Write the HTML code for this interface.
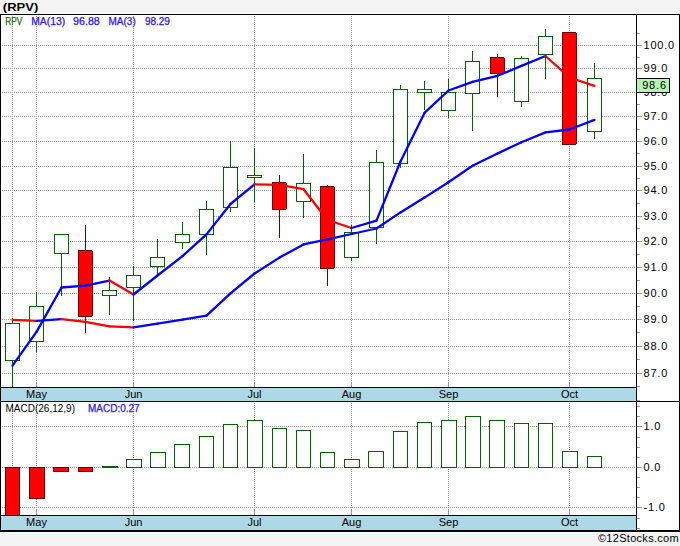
<!DOCTYPE html>
<html><head><meta charset="utf-8"><style>
html,body{margin:0;padding:0;background:#f3f3f3;}
svg{display:block;}
text{font-family:"Liberation Sans",sans-serif;}
</style></head><body>
<svg width="680" height="546" viewBox="0 0 680 546" shape-rendering="crispEdges">
<rect x="0" y="0" width="680" height="546" fill="#f3f3f3"/>
<rect x="0" y="13" width="680" height="520" fill="#ffffff"/>
<rect x="0" y="14" width="680" height="1" fill="#000"/>
<rect x="0" y="14" width="1" height="517" fill="#000"/>
<rect x="679" y="14" width="1" height="517" fill="#000"/>
<rect x="0" y="530" width="680" height="2" fill="#000"/>
<path d="M2,45.5H636" stroke="#9a9a9a" stroke-width="1" stroke-dasharray="1 1"/>
<path d="M2,68.5H636" stroke="#9a9a9a" stroke-width="1" stroke-dasharray="1 1"/>
<path d="M2,92.5H636" stroke="#9a9a9a" stroke-width="1" stroke-dasharray="1 1"/>
<path d="M2,116.5H636" stroke="#9a9a9a" stroke-width="1" stroke-dasharray="1 1"/>
<path d="M2,141.5H636" stroke="#9a9a9a" stroke-width="1" stroke-dasharray="1 1"/>
<path d="M2,166.5H636" stroke="#9a9a9a" stroke-width="1" stroke-dasharray="1 1"/>
<path d="M2,190.5H636" stroke="#9a9a9a" stroke-width="1" stroke-dasharray="1 1"/>
<path d="M2,216.5H636" stroke="#9a9a9a" stroke-width="1" stroke-dasharray="1 1"/>
<path d="M2,241.5H636" stroke="#9a9a9a" stroke-width="1" stroke-dasharray="1 1"/>
<path d="M2,267.5H636" stroke="#9a9a9a" stroke-width="1" stroke-dasharray="1 1"/>
<path d="M2,293.5H636" stroke="#9a9a9a" stroke-width="1" stroke-dasharray="1 1"/>
<path d="M2,319.5H636" stroke="#9a9a9a" stroke-width="1" stroke-dasharray="1 1"/>
<path d="M2,346.5H636" stroke="#9a9a9a" stroke-width="1" stroke-dasharray="1 1"/>
<path d="M2,373.5H636" stroke="#9a9a9a" stroke-width="1" stroke-dasharray="1 1"/>
<path d="M12.5,16V382" stroke="#9a9a9a" stroke-width="1" stroke-dasharray="1 1"/>
<rect x="12" y="382" width="1" height="5" fill="#999999"/>
<path d="M36.5,16V382" stroke="#9a9a9a" stroke-width="1" stroke-dasharray="1 1"/>
<rect x="36" y="382" width="1" height="5" fill="#999999"/>
<path d="M133.5,16V382" stroke="#9a9a9a" stroke-width="1" stroke-dasharray="1 1"/>
<rect x="133" y="382" width="1" height="5" fill="#999999"/>
<path d="M254.5,16V382" stroke="#9a9a9a" stroke-width="1" stroke-dasharray="1 1"/>
<rect x="254" y="382" width="1" height="5" fill="#999999"/>
<path d="M351.5,16V382" stroke="#9a9a9a" stroke-width="1" stroke-dasharray="1 1"/>
<rect x="351" y="382" width="1" height="5" fill="#999999"/>
<path d="M448.5,16V382" stroke="#9a9a9a" stroke-width="1" stroke-dasharray="1 1"/>
<rect x="448" y="382" width="1" height="5" fill="#999999"/>
<path d="M569.5,16V382" stroke="#9a9a9a" stroke-width="1" stroke-dasharray="1 1"/>
<rect x="569" y="382" width="1" height="5" fill="#999999"/>
<path d="M2,426.5H636" stroke="#9a9a9a" stroke-width="1" stroke-dasharray="1 1"/>
<path d="M2,467.5H636" stroke="#9a9a9a" stroke-width="1" stroke-dasharray="1 1"/>
<path d="M2,507.5H636" stroke="#9a9a9a" stroke-width="1" stroke-dasharray="1 1"/>
<path d="M12.5,403V510" stroke="#9a9a9a" stroke-width="1" stroke-dasharray="1 1"/>
<rect x="12" y="510" width="1" height="5" fill="#999999"/>
<path d="M36.5,403V510" stroke="#9a9a9a" stroke-width="1" stroke-dasharray="1 1"/>
<rect x="36" y="510" width="1" height="5" fill="#999999"/>
<path d="M133.5,403V510" stroke="#9a9a9a" stroke-width="1" stroke-dasharray="1 1"/>
<rect x="133" y="510" width="1" height="5" fill="#999999"/>
<path d="M254.5,403V510" stroke="#9a9a9a" stroke-width="1" stroke-dasharray="1 1"/>
<rect x="254" y="510" width="1" height="5" fill="#999999"/>
<path d="M351.5,403V510" stroke="#9a9a9a" stroke-width="1" stroke-dasharray="1 1"/>
<rect x="351" y="510" width="1" height="5" fill="#999999"/>
<path d="M448.5,403V510" stroke="#9a9a9a" stroke-width="1" stroke-dasharray="1 1"/>
<rect x="448" y="510" width="1" height="5" fill="#999999"/>
<path d="M569.5,403V510" stroke="#9a9a9a" stroke-width="1" stroke-dasharray="1 1"/>
<rect x="569" y="510" width="1" height="5" fill="#999999"/>
<rect x="12" y="318" width="1" height="5" fill="#006400"/>
<rect x="12" y="361" width="1" height="26" fill="#006400"/>
<rect x="5" y="323" width="15" height="38" fill="#006400"/>
<rect x="6" y="324" width="13" height="36" fill="#ffffff"/>
<rect x="36" y="292" width="1" height="14" fill="#006400"/>
<rect x="36" y="342" width="1" height="10" fill="#006400"/>
<rect x="29" y="306" width="15" height="36" fill="#006400"/>
<rect x="30" y="307" width="13" height="34" fill="#ffffff"/>
<rect x="61" y="254" width="1" height="42" fill="#006400"/>
<rect x="54" y="234" width="15" height="20" fill="#006400"/>
<rect x="55" y="235" width="13" height="18" fill="#ffffff"/>
<rect x="85" y="225" width="1" height="25" fill="#660000"/>
<rect x="85" y="317" width="1" height="16" fill="#660000"/>
<rect x="78" y="250" width="14" height="67" fill="#660000"/>
<rect x="92" y="251" width="1" height="65" fill="#660000"/>
<rect x="79" y="251" width="13" height="65" fill="#ff0000"/>
<rect x="109" y="277" width="1" height="13" fill="#006400"/>
<rect x="109" y="296" width="1" height="19" fill="#006400"/>
<rect x="102" y="290" width="15" height="6" fill="#006400"/>
<rect x="103" y="291" width="13" height="4" fill="#ffffff"/>
<rect x="133" y="266" width="1" height="9" fill="#006400"/>
<rect x="133" y="288" width="1" height="33" fill="#006400"/>
<rect x="126" y="275" width="15" height="13" fill="#006400"/>
<rect x="127" y="276" width="13" height="11" fill="#ffffff"/>
<rect x="157" y="239" width="1" height="18" fill="#006400"/>
<rect x="157" y="267" width="1" height="8" fill="#006400"/>
<rect x="150" y="257" width="15" height="10" fill="#006400"/>
<rect x="151" y="258" width="13" height="8" fill="#ffffff"/>
<rect x="182" y="222" width="1" height="12" fill="#006400"/>
<rect x="182" y="243" width="1" height="6" fill="#006400"/>
<rect x="175" y="234" width="15" height="9" fill="#006400"/>
<rect x="176" y="235" width="13" height="7" fill="#ffffff"/>
<rect x="206" y="201" width="1" height="8" fill="#006400"/>
<rect x="206" y="235" width="1" height="20" fill="#006400"/>
<rect x="199" y="209" width="15" height="26" fill="#006400"/>
<rect x="200" y="210" width="13" height="24" fill="#ffffff"/>
<rect x="230" y="141" width="1" height="26" fill="#006400"/>
<rect x="230" y="208" width="1" height="4" fill="#006400"/>
<rect x="223" y="167" width="15" height="41" fill="#006400"/>
<rect x="224" y="168" width="13" height="39" fill="#ffffff"/>
<rect x="254" y="148" width="1" height="27" fill="#006400"/>
<rect x="254" y="178" width="1" height="24" fill="#006400"/>
<rect x="247" y="175" width="15" height="3" fill="#006400"/>
<rect x="248" y="176" width="13" height="1" fill="#ffffff"/>
<rect x="279" y="175" width="1" height="7" fill="#660000"/>
<rect x="279" y="210" width="1" height="28" fill="#660000"/>
<rect x="272" y="182" width="14" height="28" fill="#660000"/>
<rect x="286" y="183" width="1" height="26" fill="#660000"/>
<rect x="273" y="183" width="13" height="26" fill="#ff0000"/>
<rect x="303" y="154" width="1" height="29" fill="#006400"/>
<rect x="303" y="202" width="1" height="16" fill="#006400"/>
<rect x="296" y="183" width="15" height="19" fill="#006400"/>
<rect x="297" y="184" width="13" height="17" fill="#ffffff"/>
<rect x="327" y="185" width="1" height="1" fill="#660000"/>
<rect x="327" y="269" width="1" height="17" fill="#660000"/>
<rect x="320" y="186" width="14" height="83" fill="#660000"/>
<rect x="334" y="187" width="1" height="81" fill="#660000"/>
<rect x="321" y="187" width="13" height="81" fill="#ff0000"/>
<rect x="351" y="225" width="1" height="7" fill="#006400"/>
<rect x="351" y="258" width="1" height="3" fill="#006400"/>
<rect x="344" y="232" width="15" height="26" fill="#006400"/>
<rect x="345" y="233" width="13" height="24" fill="#ffffff"/>
<rect x="376" y="150" width="1" height="12" fill="#006400"/>
<rect x="376" y="228" width="1" height="16" fill="#006400"/>
<rect x="369" y="162" width="15" height="66" fill="#006400"/>
<rect x="370" y="163" width="13" height="64" fill="#ffffff"/>
<rect x="400" y="85" width="1" height="4" fill="#006400"/>
<rect x="400" y="164" width="1" height="4" fill="#006400"/>
<rect x="393" y="89" width="15" height="75" fill="#006400"/>
<rect x="394" y="90" width="13" height="73" fill="#ffffff"/>
<rect x="424" y="81" width="1" height="8" fill="#006400"/>
<rect x="424" y="93" width="1" height="17" fill="#006400"/>
<rect x="417" y="89" width="15" height="4" fill="#006400"/>
<rect x="418" y="90" width="13" height="2" fill="#ffffff"/>
<rect x="448" y="79" width="1" height="13" fill="#006400"/>
<rect x="448" y="111" width="1" height="7" fill="#006400"/>
<rect x="441" y="92" width="15" height="19" fill="#006400"/>
<rect x="442" y="93" width="13" height="17" fill="#ffffff"/>
<rect x="472" y="51" width="1" height="10" fill="#006400"/>
<rect x="472" y="94" width="1" height="37" fill="#006400"/>
<rect x="465" y="61" width="15" height="33" fill="#006400"/>
<rect x="466" y="62" width="13" height="31" fill="#ffffff"/>
<rect x="497" y="54" width="1" height="3" fill="#660000"/>
<rect x="497" y="74" width="1" height="23" fill="#660000"/>
<rect x="490" y="57" width="14" height="17" fill="#660000"/>
<rect x="504" y="58" width="1" height="15" fill="#660000"/>
<rect x="491" y="58" width="13" height="15" fill="#ff0000"/>
<rect x="521" y="56" width="1" height="2" fill="#006400"/>
<rect x="521" y="102" width="1" height="5" fill="#006400"/>
<rect x="514" y="58" width="15" height="44" fill="#006400"/>
<rect x="515" y="59" width="13" height="42" fill="#ffffff"/>
<rect x="545" y="29" width="1" height="7" fill="#006400"/>
<rect x="545" y="55" width="1" height="24" fill="#006400"/>
<rect x="538" y="36" width="15" height="19" fill="#006400"/>
<rect x="539" y="37" width="13" height="17" fill="#ffffff"/>
<rect x="562" y="32" width="14" height="113" fill="#660000"/>
<rect x="576" y="33" width="1" height="111" fill="#660000"/>
<rect x="563" y="33" width="13" height="111" fill="#ff0000"/>
<rect x="594" y="63" width="1" height="15" fill="#006400"/>
<rect x="594" y="132" width="1" height="7" fill="#006400"/>
<rect x="587" y="78" width="15" height="54" fill="#006400"/>
<rect x="588" y="79" width="13" height="52" fill="#ffffff"/>
<path d="M12.5,319.9L36.5,320.9" stroke="#ff0000" stroke-width="2.3" stroke-linecap="round" fill="none" shape-rendering="geometricPrecision"/>
<path d="M36.5,320.9L61.5,319.1" stroke="#0000ff" stroke-width="2.3" stroke-linecap="round" fill="none" shape-rendering="geometricPrecision"/>
<path d="M61.5,319.1L85.5,321.9" stroke="#ff0000" stroke-width="2.3" stroke-linecap="round" fill="none" shape-rendering="geometricPrecision"/>
<path d="M85.5,321.9L109.5,326.4" stroke="#ff0000" stroke-width="2.3" stroke-linecap="round" fill="none" shape-rendering="geometricPrecision"/>
<path d="M109.5,326.4L133.5,327.4" stroke="#ff0000" stroke-width="2.3" stroke-linecap="round" fill="none" shape-rendering="geometricPrecision"/>
<path d="M133.5,327.4L157.5,323.6" stroke="#0000ff" stroke-width="2.3" stroke-linecap="round" fill="none" shape-rendering="geometricPrecision"/>
<path d="M157.5,323.6L182.5,319.7" stroke="#0000ff" stroke-width="2.3" stroke-linecap="round" fill="none" shape-rendering="geometricPrecision"/>
<path d="M182.5,319.7L206.5,315.6" stroke="#0000ff" stroke-width="2.3" stroke-linecap="round" fill="none" shape-rendering="geometricPrecision"/>
<path d="M206.5,315.6L230.5,293.3" stroke="#0000ff" stroke-width="2.3" stroke-linecap="round" fill="none" shape-rendering="geometricPrecision"/>
<path d="M230.5,293.3L254.5,273.5" stroke="#0000ff" stroke-width="2.3" stroke-linecap="round" fill="none" shape-rendering="geometricPrecision"/>
<path d="M254.5,273.5L279.5,257.6" stroke="#0000ff" stroke-width="2.3" stroke-linecap="round" fill="none" shape-rendering="geometricPrecision"/>
<path d="M279.5,257.6L303.5,244.4" stroke="#0000ff" stroke-width="2.3" stroke-linecap="round" fill="none" shape-rendering="geometricPrecision"/>
<path d="M303.5,244.4L327.5,239.4" stroke="#0000ff" stroke-width="2.3" stroke-linecap="round" fill="none" shape-rendering="geometricPrecision"/>
<path d="M327.5,239.4L351.5,234.0" stroke="#0000ff" stroke-width="2.3" stroke-linecap="round" fill="none" shape-rendering="geometricPrecision"/>
<path d="M351.5,234.0L376.5,228.5" stroke="#0000ff" stroke-width="2.3" stroke-linecap="round" fill="none" shape-rendering="geometricPrecision"/>
<path d="M376.5,228.5L400.5,212.4" stroke="#0000ff" stroke-width="2.3" stroke-linecap="round" fill="none" shape-rendering="geometricPrecision"/>
<path d="M400.5,212.4L424.5,197.6" stroke="#0000ff" stroke-width="2.3" stroke-linecap="round" fill="none" shape-rendering="geometricPrecision"/>
<path d="M424.5,197.6L448.5,182.3" stroke="#0000ff" stroke-width="2.3" stroke-linecap="round" fill="none" shape-rendering="geometricPrecision"/>
<path d="M448.5,182.3L472.5,165.8" stroke="#0000ff" stroke-width="2.3" stroke-linecap="round" fill="none" shape-rendering="geometricPrecision"/>
<path d="M472.5,165.8L497.5,153.5" stroke="#0000ff" stroke-width="2.3" stroke-linecap="round" fill="none" shape-rendering="geometricPrecision"/>
<path d="M497.5,153.5L521.5,142.2" stroke="#0000ff" stroke-width="2.3" stroke-linecap="round" fill="none" shape-rendering="geometricPrecision"/>
<path d="M521.5,142.2L545.5,132.4" stroke="#0000ff" stroke-width="2.3" stroke-linecap="round" fill="none" shape-rendering="geometricPrecision"/>
<path d="M545.5,132.4L569.5,129.5" stroke="#0000ff" stroke-width="2.3" stroke-linecap="round" fill="none" shape-rendering="geometricPrecision"/>
<path d="M569.5,129.5L594.5,119.9" stroke="#0000ff" stroke-width="2.3" stroke-linecap="round" fill="none" shape-rendering="geometricPrecision"/>
<path d="M12.5,365.7L36.5,331.9" stroke="#0000ff" stroke-width="2.3" stroke-linecap="round" fill="none" shape-rendering="geometricPrecision"/>
<path d="M36.5,331.9L61.5,287.5" stroke="#0000ff" stroke-width="2.3" stroke-linecap="round" fill="none" shape-rendering="geometricPrecision"/>
<path d="M61.5,287.5L85.5,285.6" stroke="#0000ff" stroke-width="2.3" stroke-linecap="round" fill="none" shape-rendering="geometricPrecision"/>
<path d="M85.5,285.6L109.5,280.6" stroke="#0000ff" stroke-width="2.3" stroke-linecap="round" fill="none" shape-rendering="geometricPrecision"/>
<path d="M109.5,280.6L133.5,294.5" stroke="#ff0000" stroke-width="2.3" stroke-linecap="round" fill="none" shape-rendering="geometricPrecision"/>
<path d="M133.5,294.5L157.5,275.5" stroke="#0000ff" stroke-width="2.3" stroke-linecap="round" fill="none" shape-rendering="geometricPrecision"/>
<path d="M157.5,275.5L182.5,256.1" stroke="#0000ff" stroke-width="2.3" stroke-linecap="round" fill="none" shape-rendering="geometricPrecision"/>
<path d="M182.5,256.1L206.5,234.4" stroke="#0000ff" stroke-width="2.3" stroke-linecap="round" fill="none" shape-rendering="geometricPrecision"/>
<path d="M206.5,234.4L230.5,204.0" stroke="#0000ff" stroke-width="2.3" stroke-linecap="round" fill="none" shape-rendering="geometricPrecision"/>
<path d="M230.5,204.0L254.5,184.3" stroke="#0000ff" stroke-width="2.3" stroke-linecap="round" fill="none" shape-rendering="geometricPrecision"/>
<path d="M254.5,184.3L279.5,184.8" stroke="#ff0000" stroke-width="2.3" stroke-linecap="round" fill="none" shape-rendering="geometricPrecision"/>
<path d="M279.5,184.8L303.5,189.2" stroke="#ff0000" stroke-width="2.3" stroke-linecap="round" fill="none" shape-rendering="geometricPrecision"/>
<path d="M303.5,189.2L327.5,220.0" stroke="#ff0000" stroke-width="2.3" stroke-linecap="round" fill="none" shape-rendering="geometricPrecision"/>
<path d="M327.5,220.0L351.5,228.0" stroke="#ff0000" stroke-width="2.3" stroke-linecap="round" fill="none" shape-rendering="geometricPrecision"/>
<path d="M351.5,228.0L376.5,220.6" stroke="#0000ff" stroke-width="2.3" stroke-linecap="round" fill="none" shape-rendering="geometricPrecision"/>
<path d="M376.5,220.6L400.5,161.5" stroke="#0000ff" stroke-width="2.3" stroke-linecap="round" fill="none" shape-rendering="geometricPrecision"/>
<path d="M400.5,161.5L424.5,112.9" stroke="#0000ff" stroke-width="2.3" stroke-linecap="round" fill="none" shape-rendering="geometricPrecision"/>
<path d="M424.5,112.9L448.5,90.5" stroke="#0000ff" stroke-width="2.3" stroke-linecap="round" fill="none" shape-rendering="geometricPrecision"/>
<path d="M448.5,90.5L472.5,81.9" stroke="#0000ff" stroke-width="2.3" stroke-linecap="round" fill="none" shape-rendering="geometricPrecision"/>
<path d="M472.5,81.9L497.5,75.8" stroke="#0000ff" stroke-width="2.3" stroke-linecap="round" fill="none" shape-rendering="geometricPrecision"/>
<path d="M497.5,75.8L521.5,65.9" stroke="#0000ff" stroke-width="2.3" stroke-linecap="round" fill="none" shape-rendering="geometricPrecision"/>
<path d="M521.5,65.9L545.5,56.0" stroke="#0000ff" stroke-width="2.3" stroke-linecap="round" fill="none" shape-rendering="geometricPrecision"/>
<path d="M545.5,56.0L569.5,77.5" stroke="#ff0000" stroke-width="2.3" stroke-linecap="round" fill="none" shape-rendering="geometricPrecision"/>
<path d="M569.5,77.5L594.5,85.9" stroke="#ff0000" stroke-width="2.3" stroke-linecap="round" fill="none" shape-rendering="geometricPrecision"/>
<rect x="5" y="467" width="15" height="49" fill="#660000"/>
<rect x="6" y="468" width="13" height="47" fill="#ff0000"/>
<rect x="29" y="467" width="16" height="32" fill="#660000"/>
<rect x="30" y="468" width="14" height="30" fill="#ff0000"/>
<rect x="53" y="467" width="16" height="5" fill="#660000"/>
<rect x="54" y="468" width="14" height="3" fill="#ff0000"/>
<rect x="78" y="467" width="15" height="5" fill="#660000"/>
<rect x="79" y="468" width="13" height="3" fill="#ff0000"/>
<rect x="102" y="466" width="16" height="2" fill="#006400"/>
<rect x="126" y="459" width="16" height="9" fill="#006400"/>
<rect x="127" y="460" width="14" height="7" fill="#ffffff"/>
<rect x="150" y="452" width="16" height="16" fill="#006400"/>
<rect x="151" y="453" width="14" height="14" fill="#ffffff"/>
<rect x="174" y="444" width="16" height="24" fill="#006400"/>
<rect x="175" y="445" width="14" height="22" fill="#ffffff"/>
<rect x="199" y="436" width="15" height="32" fill="#006400"/>
<rect x="200" y="437" width="13" height="30" fill="#ffffff"/>
<rect x="223" y="424" width="15" height="44" fill="#006400"/>
<rect x="224" y="425" width="13" height="42" fill="#ffffff"/>
<rect x="247" y="420" width="16" height="48" fill="#006400"/>
<rect x="248" y="421" width="14" height="46" fill="#ffffff"/>
<rect x="272" y="428" width="15" height="40" fill="#006400"/>
<rect x="273" y="429" width="13" height="38" fill="#ffffff"/>
<rect x="296" y="430" width="15" height="38" fill="#006400"/>
<rect x="297" y="431" width="13" height="36" fill="#ffffff"/>
<rect x="320" y="452" width="15" height="16" fill="#006400"/>
<rect x="321" y="453" width="13" height="14" fill="#ffffff"/>
<rect x="344" y="459" width="16" height="9" fill="#006400"/>
<rect x="345" y="460" width="14" height="7" fill="#ffffff"/>
<rect x="368" y="451" width="16" height="17" fill="#006400"/>
<rect x="369" y="452" width="14" height="15" fill="#ffffff"/>
<rect x="393" y="431" width="15" height="37" fill="#006400"/>
<rect x="394" y="432" width="13" height="35" fill="#ffffff"/>
<rect x="417" y="422" width="15" height="46" fill="#006400"/>
<rect x="418" y="423" width="13" height="44" fill="#ffffff"/>
<rect x="441" y="420" width="16" height="48" fill="#006400"/>
<rect x="442" y="421" width="14" height="46" fill="#ffffff"/>
<rect x="465" y="416" width="16" height="52" fill="#006400"/>
<rect x="466" y="417" width="14" height="50" fill="#ffffff"/>
<rect x="489" y="420" width="16" height="48" fill="#006400"/>
<rect x="490" y="421" width="14" height="46" fill="#ffffff"/>
<rect x="514" y="423" width="15" height="45" fill="#006400"/>
<rect x="515" y="424" width="13" height="43" fill="#ffffff"/>
<rect x="538" y="423" width="15" height="45" fill="#006400"/>
<rect x="539" y="424" width="13" height="43" fill="#ffffff"/>
<rect x="562" y="451" width="16" height="17" fill="#006400"/>
<rect x="563" y="452" width="14" height="15" fill="#ffffff"/>
<rect x="587" y="456" width="15" height="12" fill="#006400"/>
<rect x="588" y="457" width="13" height="10" fill="#ffffff"/>
<rect x="1" y="387" width="636" height="1" fill="#000"/>
<rect x="1" y="388" width="635" height="13" fill="#add8e6"/>
<rect x="0" y="401" width="680" height="1" fill="#000"/>
<rect x="1" y="515" width="636" height="1" fill="#000"/>
<rect x="1" y="516" width="635" height="14" fill="#add8e6"/>
<rect x="636" y="14" width="1" height="517" fill="#000"/>
<rect x="637" y="45" width="5" height="1" fill="#999999"/>
<rect x="637" y="68" width="5" height="1" fill="#999999"/>
<rect x="637" y="92" width="5" height="1" fill="#999999"/>
<rect x="637" y="116" width="5" height="1" fill="#999999"/>
<rect x="637" y="141" width="5" height="1" fill="#999999"/>
<rect x="637" y="166" width="5" height="1" fill="#999999"/>
<rect x="637" y="190" width="5" height="1" fill="#999999"/>
<rect x="637" y="216" width="5" height="1" fill="#999999"/>
<rect x="637" y="241" width="5" height="1" fill="#999999"/>
<rect x="637" y="267" width="5" height="1" fill="#999999"/>
<rect x="637" y="293" width="5" height="1" fill="#999999"/>
<rect x="637" y="319" width="5" height="1" fill="#999999"/>
<rect x="637" y="346" width="5" height="1" fill="#999999"/>
<rect x="637" y="373" width="5" height="1" fill="#999999"/>
<rect x="637" y="33" width="3" height="1" fill="#999999"/>
<rect x="637" y="57" width="3" height="1" fill="#999999"/>
<rect x="637" y="80" width="3" height="1" fill="#999999"/>
<rect x="637" y="104" width="3" height="1" fill="#999999"/>
<rect x="637" y="129" width="3" height="1" fill="#999999"/>
<rect x="637" y="153" width="3" height="1" fill="#999999"/>
<rect x="637" y="178" width="3" height="1" fill="#999999"/>
<rect x="637" y="203" width="3" height="1" fill="#999999"/>
<rect x="637" y="228" width="3" height="1" fill="#999999"/>
<rect x="637" y="254" width="3" height="1" fill="#999999"/>
<rect x="637" y="280" width="3" height="1" fill="#999999"/>
<rect x="637" y="306" width="3" height="1" fill="#999999"/>
<rect x="637" y="332" width="3" height="1" fill="#999999"/>
<rect x="637" y="359" width="3" height="1" fill="#999999"/>
<rect x="637" y="386" width="3" height="1" fill="#999999"/>
<rect x="637" y="400" width="3" height="1" fill="#999999"/>
<rect x="637" y="426" width="5" height="1" fill="#999999"/>
<rect x="637" y="467" width="5" height="1" fill="#999999"/>
<rect x="637" y="507" width="5" height="1" fill="#999999"/>
<rect x="637" y="406" width="3" height="1" fill="#999999"/>
<rect x="637" y="416" width="3" height="1" fill="#999999"/>
<rect x="637" y="437" width="3" height="1" fill="#999999"/>
<rect x="637" y="447" width="3" height="1" fill="#999999"/>
<rect x="637" y="457" width="3" height="1" fill="#999999"/>
<rect x="637" y="477" width="3" height="1" fill="#999999"/>
<rect x="637" y="487" width="3" height="1" fill="#999999"/>
<rect x="637" y="497" width="3" height="1" fill="#999999"/>
<rect x="637" y="518" width="3" height="1" fill="#999999"/>
<rect x="637" y="528" width="3" height="1" fill="#999999"/>
<text x="643.5" y="49" font-size="11" fill="#000" font-weight="normal" text-anchor="start" letter-spacing="0.8">100.0</text>
<text x="643.5" y="72" font-size="11" fill="#000" font-weight="normal" text-anchor="start" letter-spacing="0.8">99.0</text>
<text x="643.5" y="96" font-size="11" fill="#000" font-weight="normal" text-anchor="start" letter-spacing="0.8">98.0</text>
<text x="643.5" y="120" font-size="11" fill="#000" font-weight="normal" text-anchor="start" letter-spacing="0.8">97.0</text>
<text x="643.5" y="145" font-size="11" fill="#000" font-weight="normal" text-anchor="start" letter-spacing="0.8">96.0</text>
<text x="643.5" y="170" font-size="11" fill="#000" font-weight="normal" text-anchor="start" letter-spacing="0.8">95.0</text>
<text x="643.5" y="194" font-size="11" fill="#000" font-weight="normal" text-anchor="start" letter-spacing="0.8">94.0</text>
<text x="643.5" y="220" font-size="11" fill="#000" font-weight="normal" text-anchor="start" letter-spacing="0.8">93.0</text>
<text x="643.5" y="245" font-size="11" fill="#000" font-weight="normal" text-anchor="start" letter-spacing="0.8">92.0</text>
<text x="643.5" y="271" font-size="11" fill="#000" font-weight="normal" text-anchor="start" letter-spacing="0.8">91.0</text>
<text x="643.5" y="297" font-size="11" fill="#000" font-weight="normal" text-anchor="start" letter-spacing="0.8">90.0</text>
<text x="643.5" y="323" font-size="11" fill="#000" font-weight="normal" text-anchor="start" letter-spacing="0.8">89.0</text>
<text x="643.5" y="350" font-size="11" fill="#000" font-weight="normal" text-anchor="start" letter-spacing="0.8">88.0</text>
<text x="643.5" y="377" font-size="11" fill="#000" font-weight="normal" text-anchor="start" letter-spacing="0.8">87.0</text>
<text x="643.5" y="430" font-size="11" fill="#000" font-weight="normal" text-anchor="start" letter-spacing="0.8">1.0</text>
<text x="643.5" y="471" font-size="11" fill="#000" font-weight="normal" text-anchor="start" letter-spacing="0.8">0.0</text>
<text x="643.5" y="511" font-size="11" fill="#000" font-weight="normal" text-anchor="start" letter-spacing="0.8">-1.0</text>
<rect x="636" y="78" width="34" height="15" fill="#000"/>
<rect x="637" y="79" width="32" height="13" fill="#b4f5b4"/>
<text x="642.2" y="89" font-size="11" fill="#000" font-weight="normal" text-anchor="start" letter-spacing="0.8">98.6</text>
<text x="36.5" y="398" font-size="11" fill="#000" font-weight="normal" text-anchor="middle">May</text>
<text x="36.5" y="526" font-size="11" fill="#000" font-weight="normal" text-anchor="middle">May</text>
<text x="133.5" y="398" font-size="11" fill="#000" font-weight="normal" text-anchor="middle">Jun</text>
<text x="133.5" y="526" font-size="11" fill="#000" font-weight="normal" text-anchor="middle">Jun</text>
<text x="254.5" y="398" font-size="11" fill="#000" font-weight="normal" text-anchor="middle">Jul</text>
<text x="254.5" y="526" font-size="11" fill="#000" font-weight="normal" text-anchor="middle">Jul</text>
<text x="351.5" y="398" font-size="11" fill="#000" font-weight="normal" text-anchor="middle">Aug</text>
<text x="351.5" y="526" font-size="11" fill="#000" font-weight="normal" text-anchor="middle">Aug</text>
<text x="448.5" y="398" font-size="11" fill="#000" font-weight="normal" text-anchor="middle">Sep</text>
<text x="448.5" y="526" font-size="11" fill="#000" font-weight="normal" text-anchor="middle">Sep</text>
<text x="569.5" y="398" font-size="11" fill="#000" font-weight="normal" text-anchor="middle">Oct</text>
<text x="569.5" y="526" font-size="11" fill="#000" font-weight="normal" text-anchor="middle">Oct</text>
<text x="2.8" y="11.3" font-size="11.5" fill="#000" font-weight="bold" text-anchor="start" textLength="35.5" lengthAdjust="spacingAndGlyphs">(RPV)</text>
<text x="5.2" y="25" font-size="10" fill="#1f6e12" font-weight="normal" text-anchor="start" textLength="17" lengthAdjust="spacingAndGlyphs" stroke="#1f6e12" stroke-width="0.25">RPV</text>
<text x="31.2" y="25" font-size="10" fill="#3010ff" font-weight="normal" text-anchor="start" textLength="34" lengthAdjust="spacingAndGlyphs" stroke="#3010ff" stroke-width="0.25">MA(13)</text>
<text x="73.0" y="25" font-size="10" fill="#3010ff" font-weight="normal" text-anchor="start" textLength="26.8" lengthAdjust="spacingAndGlyphs" stroke="#3010ff" stroke-width="0.25">96.88</text>
<text x="108.5" y="25" font-size="10" fill="#3010ff" font-weight="normal" text-anchor="start" stroke="#3010ff" stroke-width="0.25">MA(3)</text>
<text x="144.9" y="25" font-size="10" fill="#3010ff" font-weight="normal" text-anchor="start" stroke="#3010ff" stroke-width="0.25">98.29</text>
<text x="5.5" y="412" font-size="10" fill="#000" font-weight="normal" text-anchor="start">MACD(26,12,9)</text>
<text x="88" y="412" font-size="10" fill="#3010ff" font-weight="normal" text-anchor="start" stroke="#3010ff" stroke-width="0.25">MACD:0.27</text>
<text x="679" y="542" font-size="11" fill="#000" font-weight="normal" text-anchor="end" letter-spacing="0.3">©12Stocks.com</text>
</svg>
</body></html>
